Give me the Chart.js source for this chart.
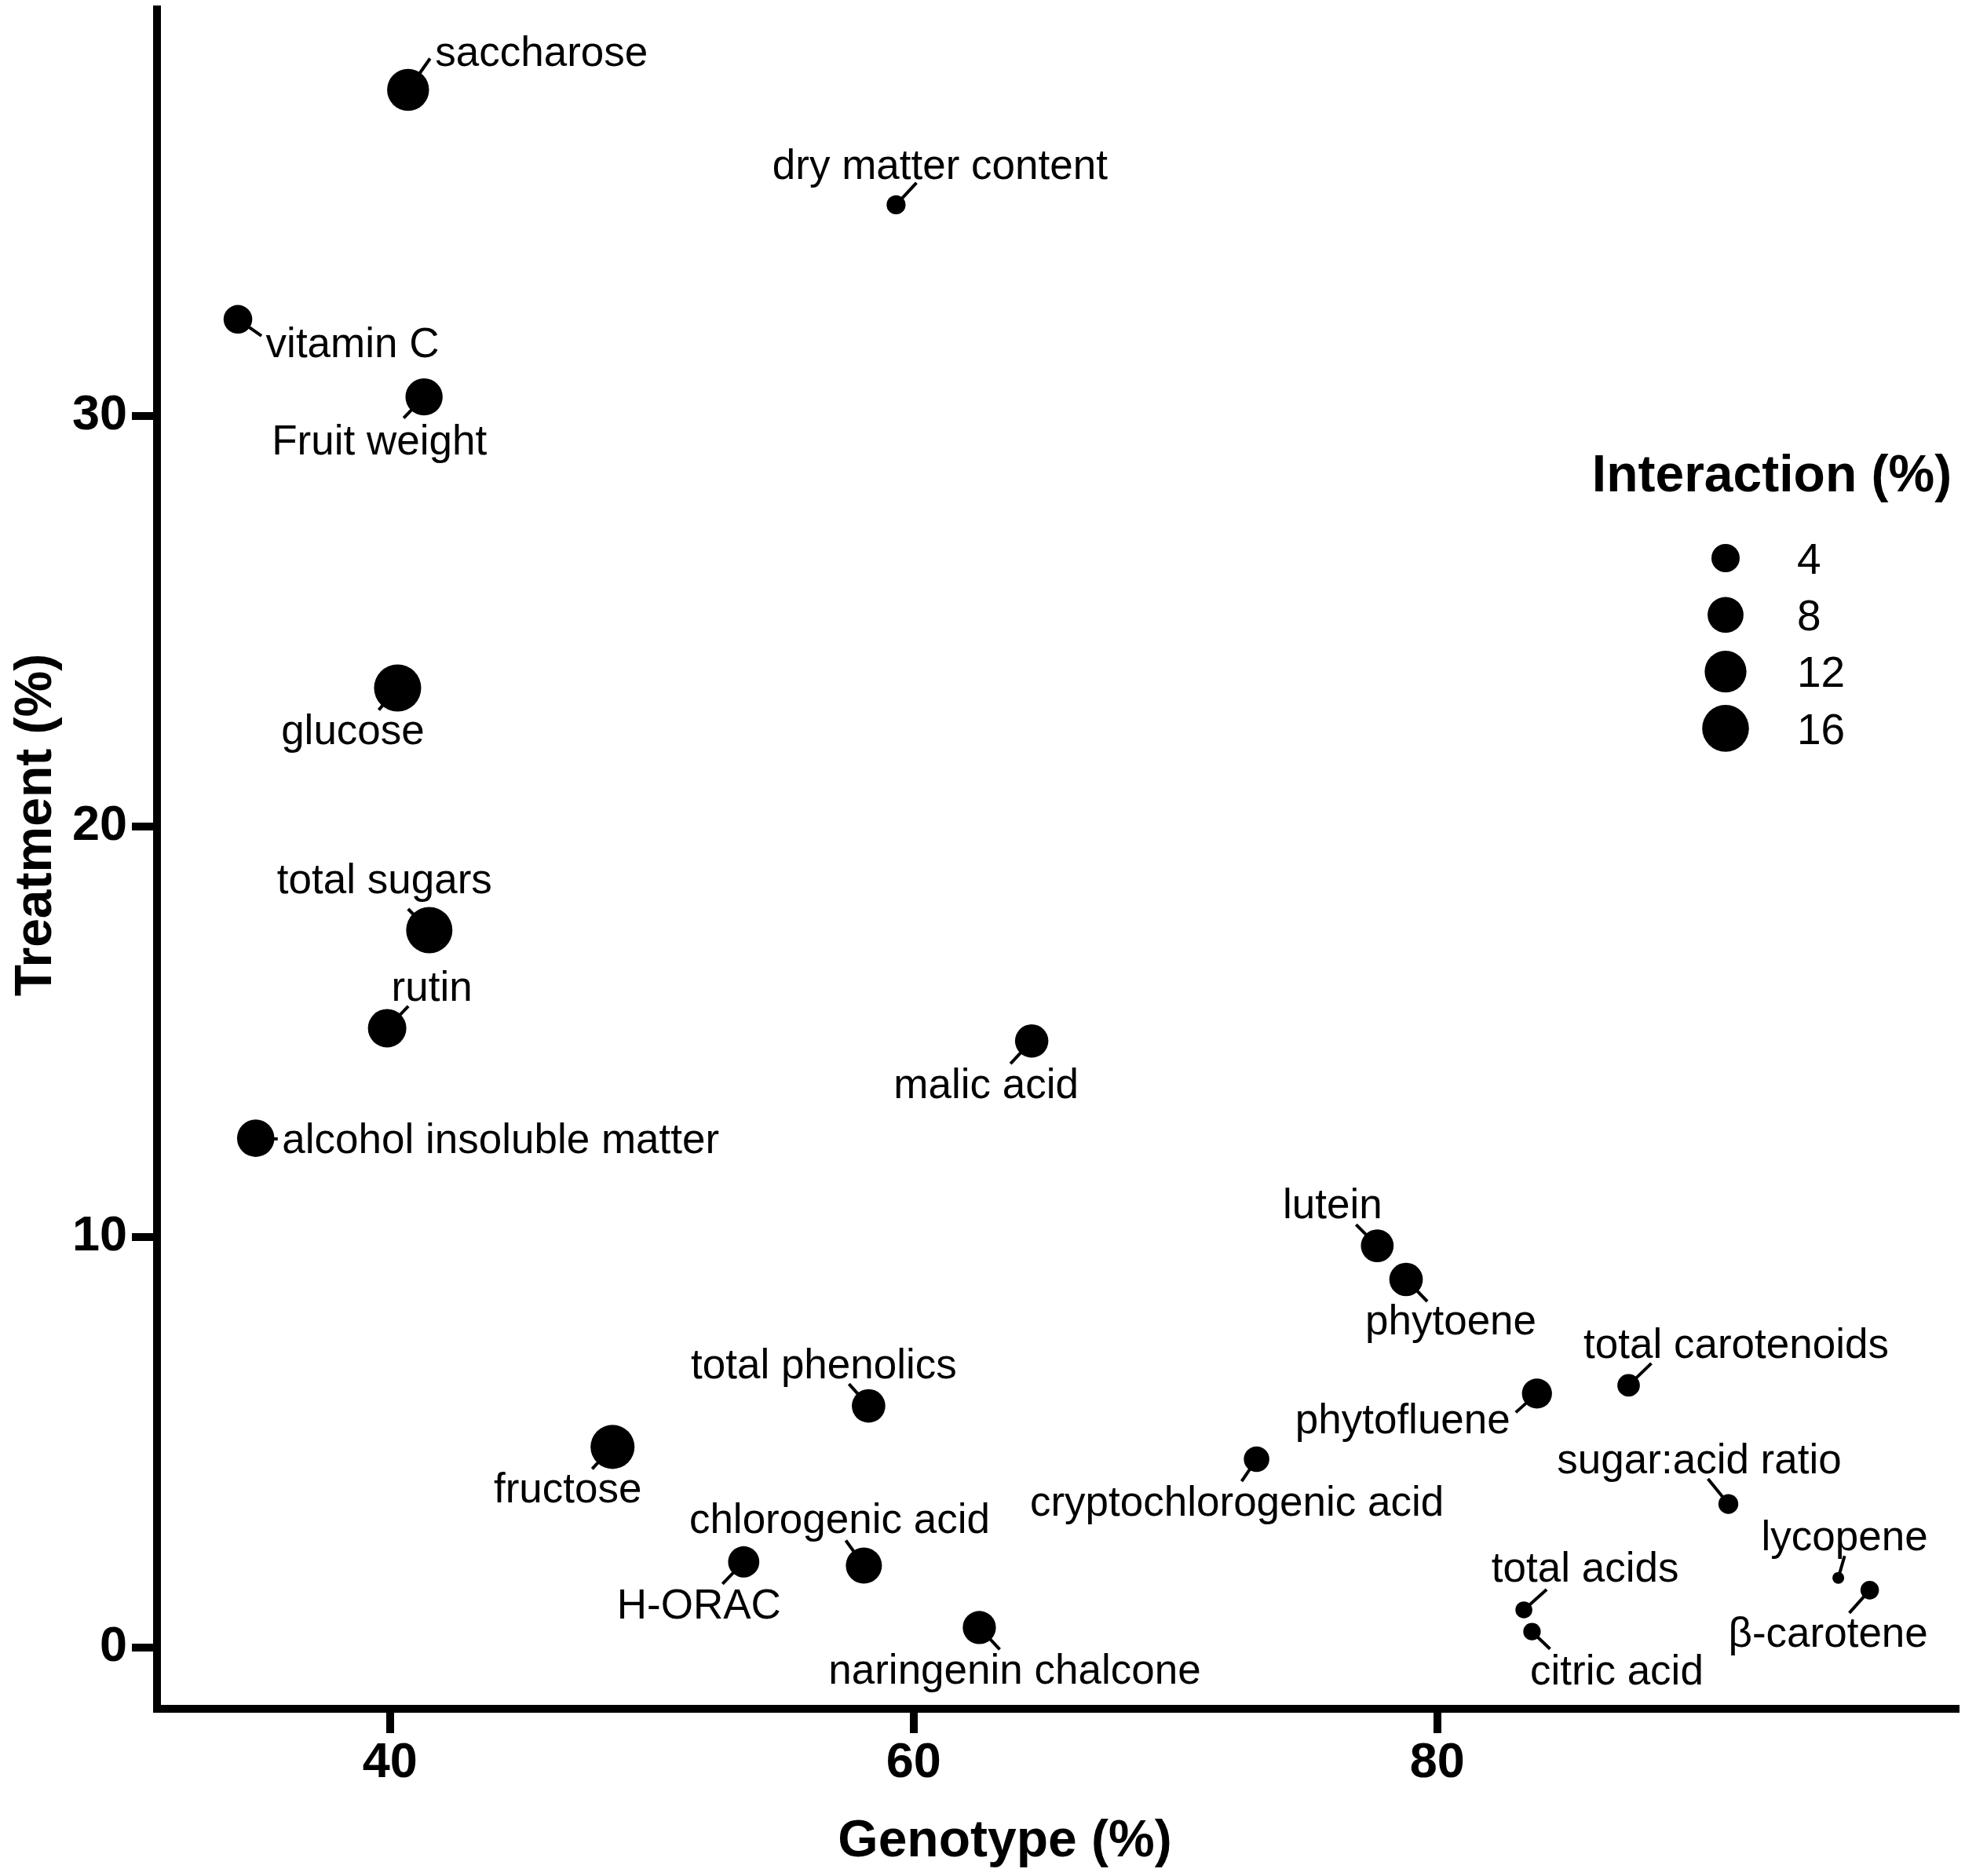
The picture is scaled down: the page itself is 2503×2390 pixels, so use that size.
<!DOCTYPE html>
<html>
<head>
<meta charset="utf-8">
<script src="https://cdn.jsdelivr.net/npm/chart.js@4.4.1/dist/chart.umd.min.js"></script>
<style>
  html, body { margin: 0; padding: 0; background: #fff; }
  #wrap { width: 2503px; height: 2390px; }
</style>
</head>
<body>
<div id="wrap"><canvas id="c" width="2503" height="2390"></canvas></div>
<script>
// ---------------- data ----------------
const categories = ['saccharose', 'dry matter content', 'vitamin C', 'Fruit weight', 'glucose',
  'total sugars', 'rutin', 'alcohol insoluble matter', 'malic acid', 'lutein', 'phytoene',
  'total phenolics', 'fructose', 'total carotenoids', 'phytofluene', 'cryptochlorogenic acid',
  'sugar:acid ratio', 'chlorogenic acid', 'H-ORAC', 'lycopene', 'β-carotene', 'total acids',
  'citric acid', 'naringenin chalcone'];
const genotype = [40.69, 59.33, 34.19, 41.30, 40.29, 41.50, 39.89, 34.87, 64.51, 77.71, 78.81,
  58.28, 48.50, 87.31, 83.81, 73.10, 91.12, 58.10, 53.51, 95.32, 96.52, 83.31, 83.62, 62.51];
const treatment = [37.94, 35.14, 32.35, 30.46, 23.37, 17.47, 15.08, 12.40, 14.77, 9.78, 8.96,
  5.88, 4.88, 6.38, 6.18, 4.58, 3.49, 1.99, 2.08, 1.69, 1.39, 0.91, 0.38, 0.48];
const interaction = [12.1, 1.0, 4.2, 8.8, 16.3, 15.6, 9.6, 8.9, 6.5, 6.2, 6.6,
  6.6, 13.7, 1.9, 4.8, 2.9, 1.2, 8.1, 5.4, 0.05, 0.9, 0.6, 0.7, 6.4];
const xTicks = [40, 60, 80];
const yTicks = [0, 10, 20, 30];
const legendValues = [4, 8, 12, 16];
const xTitle = 'Genotype (%)';
const yTitle = 'Treatment (%)';
const legendTitle = 'Interaction (%)';

// ---------------- styling / layout (not data) ----------------
const FONT = '"Liberation Sans", Arial, Helvetica, sans-serif';
function radiusFor(v) { return 6.2 + 5.9 * Math.sqrt(Math.max(v, 0)); }
// per-label placement: text centre dx, baseline dy, connector end lx, ly (px from point centre)
const labelLayout = [
  [170, -30, 28, -40], [56, -33, 26, -28], [146, 48, 30, 21], [-57, 73, -26, 27],
  [-57, 72, -24, 28], [-57, -47, -27, -27], [57, -35, 27, -28], [312, 19, 28, 1],
  [-58, 73, -27, 29], [-57, -35, -27, -27], [57, 70, 27, 28], [-57, -35, -25, -28],
  [-57, 71, -26, 28], [137, -35, 29, -28], [-171, 51, -27, 24], [-25, 72, -19, 28],
  [-37, -39, -26, -32], [-31, -41, -23, -32], [-57, 72, -27, 28], [8, -35, 8, -28],
  [-53, 72, -26, 29], [78, -36, 29, -26], [108, 67, 23, 22], [45, 72, 26, 28]
];

const points = categories.map((c, i) => ({ x: genotype[i], y: treatment[i], r: radiusFor(interaction[i]) }));

const labelPlugin = {
  id: 'pointLabels',
  afterDatasetsDraw(chart) {
    const ctx = chart.ctx;
    const meta = chart.getDatasetMeta(0);
    ctx.save();
    ctx.strokeStyle = '#000';
    ctx.fillStyle = '#000';
    ctx.lineWidth = 4;
    ctx.lineCap = 'butt';
    ctx.font = '53px ' + FONT;
    ctx.textAlign = 'center';
    ctx.textBaseline = 'alphabetic';
    meta.data.forEach((el, i) => {
      const [dx, dy, lx, ly] = labelLayout[i];
      ctx.beginPath();
      ctx.moveTo(el.x, el.y);
      ctx.lineTo(el.x + lx, el.y + ly);
      ctx.stroke();
      ctx.fillText(categories[i], el.x + dx, el.y + dy);
    });
    ctx.restore();
  }
};

const decorPlugin = {
  id: 'decor',
  afterDraw(chart) {
    const ctx = chart.ctx;
    const a = chart.chartArea;
    ctx.save();
    ctx.fillStyle = '#000';
    // square off the axis corner
    ctx.fillRect(a.left - 5, a.bottom - 5, 10, 10);
    // axis titles
    ctx.font = 'bold 66px ' + FONT;
    ctx.textAlign = 'center';
    ctx.textBaseline = 'alphabetic';
    ctx.fillText(xTitle, a.left + 1080, 2365);
    ctx.save();
    ctx.translate(65, a.top + 1039);
    ctx.rotate(-Math.PI / 2);
    ctx.fillText(yTitle, 0, 0);
    ctx.restore();
    // size legend
    const lx = 2198, ly0 = 711, step = 72.3;
    ctx.fillText(legendTitle, 2257, 626);
    ctx.font = '55px ' + FONT;
    ctx.textAlign = 'left';
    legendValues.forEach((v, k) => {
      const cy = ly0 + k * step;
      ctx.beginPath();
      ctx.arc(lx, cy, radiusFor(v), 0, Math.PI * 2);
      ctx.fill();
      ctx.fillText(String(v), 2289, cy + 19.7);
    });
    ctx.restore();
  }
};

function zeroPad(s) { s.paddingTop = 0; s.paddingBottom = 0; s.paddingLeft = 0; s.paddingRight = 0; }

new Chart(document.getElementById('c'), {
  type: 'bubble',
  data: {
    datasets: [{
      data: points,
      backgroundColor: '#000',
      borderColor: '#000',
      borderWidth: 0,
      hoverRadius: 0,
      hoverBorderWidth: 0
    }]
  },
  options: {
    responsive: false,
    maintainAspectRatio: false,
    devicePixelRatio: 1,
    animation: false,
    events: [],
    clip: false,
    layout: { autoPadding: false, padding: { top: 12, right: 12, left: 0, bottom: 0 } },
    plugins: { legend: { display: false }, tooltip: { enabled: false }, title: { display: false } },
    scales: {
      x: {
        type: 'linear',
        position: 'bottom',
        min: 31.1,
        max: 99.8,
        afterBuildTicks: s => { s.ticks = xTicks.map(v => ({ value: v })); },
        afterFit: s => { s.height = 213; zeroPad(s); },
        grid: { drawOnChartArea: false, drawTicks: true, tickLength: 31, tickWidth: 10, tickColor: '#000', lineWidth: 10, color: '#000' },
        border: { display: true, width: 10, color: '#000' },
        ticks: { padding: 1, color: '#000', autoSkip: false, maxRotation: 0, minRotation: 0,
          font: { family: FONT, size: 63, weight: 'bold' } },
        title: { display: false }
      },
      y: {
        type: 'linear',
        position: 'left',
        min: -1.5,
        max: 39.9,
        afterBuildTicks: s => { s.ticks = yTicks.map(v => ({ value: v })); },
        afterFit: s => { s.width = 200; zeroPad(s); },
        grid: { drawOnChartArea: false, drawTicks: true, tickLength: 32, tickWidth: 10, tickColor: '#000', lineWidth: 10, color: '#000' },
        border: { display: true, width: 10, color: '#000' },
        ticks: { padding: 6, color: '#000', autoSkip: false,
          font: { family: FONT, size: 63, weight: 'bold' } },
        title: { display: false }
      }
    }
  },
  plugins: [labelPlugin, decorPlugin]
});
</script>
</body>
</html>
